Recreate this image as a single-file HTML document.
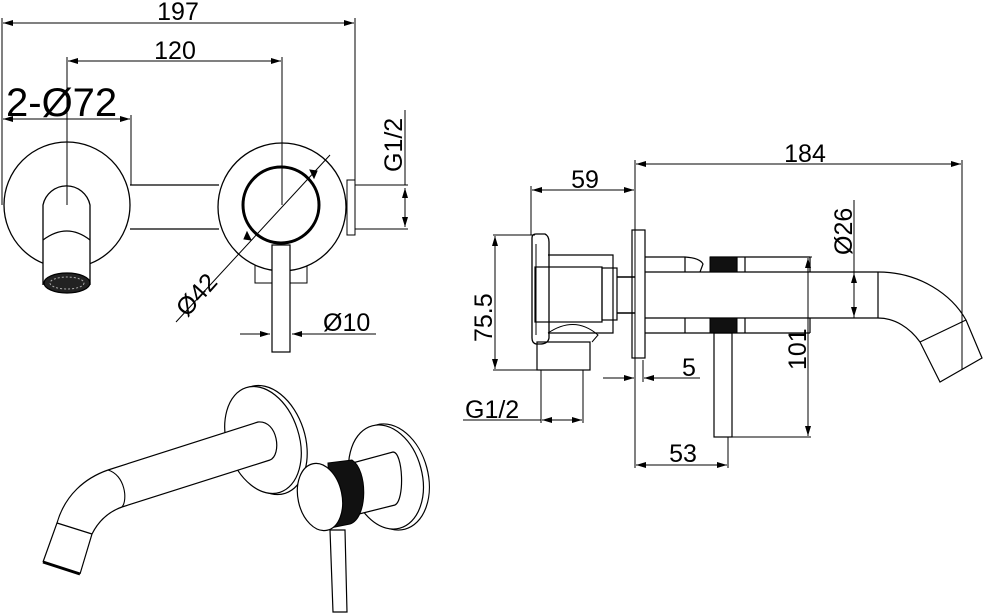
<!DOCTYPE html>
<html><head><meta charset="utf-8"><style>
html,body{margin:0;padding:0;background:#fff}
svg{display:block}
text{font-family:"Liberation Sans",sans-serif;fill:#000}
</style></head><body>
<svg width="989" height="613" viewBox="0 0 989 613" xmlns="http://www.w3.org/2000/svg">
<defs>
<marker id="a" viewBox="0 0 10 6" refX="10" refY="3" markerWidth="10" markerHeight="6" orient="auto-start-reverse" markerUnits="userSpaceOnUse"><path d="M0,0 L10,3 L0,6 z" fill="#000"/></marker>
</defs>
<g fill="none" stroke="#000" stroke-width="1">
<line x1="2" y1="18" x2="2" y2="205"/>
<line x1="355" y1="18" x2="355" y2="185"/>
<line x1="3" y1="23" x2="354" y2="23" marker-start="url(#a)" marker-end="url(#a)"/>
<line x1="67" y1="57" x2="67" y2="205"/>
<line x1="282" y1="57" x2="282" y2="205"/>
<line x1="68" y1="61" x2="281" y2="61" marker-start="url(#a)" marker-end="url(#a)"/>
<line x1="131" y1="115" x2="131" y2="185"/>
<line x1="3" y1="119" x2="130" y2="119" marker-start="url(#a)" marker-end="url(#a)"/>
<circle cx="67" cy="205" r="63" stroke-width="1.3"/>
<path d="M43,285 L43,205 A24,24 0 0 1 90,205 L90,285" fill="#fff" stroke-width="1.3"/>
<line x1="67" y1="57" x2="67" y2="205"/>
<path d="M43,240 Q67,222 90,240" stroke-width="1.2"/>
<ellipse cx="67" cy="283" rx="23" ry="10" fill="#222" stroke-width="1.3"/>
<ellipse cx="67" cy="283" rx="17" ry="6" stroke="#aaa" stroke-dasharray="2,2"/>
<line x1="130" y1="185" x2="219" y2="185" stroke-width="1.2"/>
<line x1="130" y1="229" x2="219" y2="229" stroke-width="1.2"/>
<rect x="255" y="262" width="52" height="21"/>
<circle cx="282" cy="207" r="64" fill="#fff" stroke-width="1.3"/>
<circle cx="281" cy="205" r="38" stroke-width="3"/>
<rect x="347" y="180" width="8" height="55" stroke-width="1"/>
<rect x="272" y="245" width="18" height="107" fill="#fff" stroke-width="1.2"/>
<line x1="282" y1="57" x2="282" y2="205"/>
<line x1="355" y1="185" x2="408" y2="185"/>
<line x1="355" y1="229" x2="408" y2="229"/>
<line x1="405" y1="188" x2="405" y2="227" marker-start="url(#a)" marker-end="url(#a)"/>
<line x1="405" y1="110" x2="405" y2="185"/>
<line x1="176" y1="322" x2="330" y2="155"/>
<path d="M251,240 l-4,-8 l-3,7z M310,170 l4,8 l3,-7z" fill="#000"/>
<line x1="240" y1="334" x2="270" y2="334" marker-end="url(#a)"/>
<line x1="376" y1="334" x2="292" y2="334" marker-end="url(#a)"/>
<line x1="635" y1="160" x2="635" y2="468"/>
<line x1="962" y1="160" x2="962" y2="370"/>
<line x1="636" y1="164" x2="961" y2="164" marker-start="url(#a)" marker-end="url(#a)"/>
<line x1="531" y1="186" x2="531" y2="235"/>
<line x1="532" y1="190" x2="634" y2="190" marker-start="url(#a)" marker-end="url(#a)"/>
<line x1="493" y1="235" x2="535" y2="235"/>
<line x1="493" y1="370" x2="540" y2="370"/>
<line x1="495" y1="236" x2="495" y2="369" marker-start="url(#a)" marker-end="url(#a)"/>
<line x1="541" y1="370" x2="541" y2="423"/>
<line x1="583" y1="370" x2="583" y2="423"/>
<line x1="463" y1="420" x2="541" y2="420"/>
<line x1="542" y1="420" x2="582" y2="420" marker-start="url(#a)" marker-end="url(#a)"/>
<line x1="603" y1="378" x2="634" y2="378" marker-end="url(#a)"/>
<line x1="700" y1="378" x2="644" y2="378" marker-end="url(#a)"/>
<line x1="643" y1="360" x2="643" y2="382"/>
<line x1="636" y1="465" x2="727" y2="465" marker-start="url(#a)" marker-end="url(#a)"/>
<line x1="728" y1="437" x2="728" y2="468"/>
<line x1="728" y1="437" x2="811" y2="437"/>
<line x1="810" y1="257" x2="812" y2="257"/>
<line x1="808" y1="258" x2="808" y2="436" marker-start="url(#a)" marker-end="url(#a)"/>
<line x1="854" y1="200" x2="854" y2="318"/>
<line x1="854" y1="273" x2="854" y2="317" marker-start="url(#a)" marker-end="url(#a)"/>
<line x1="854" y1="318" x2="878" y2="318"/>
<rect x="537" y="342" width="53" height="28" stroke-width="1.2"/>
<path d="M548,255 L613,255 L613,333 L548,333" stroke-width="1.2"/>
<path d="M548,333 Q575,315 598,335 L592,342" stroke-width="1"/>
<rect x="535" y="267" width="67" height="55" stroke-width="1.2"/>
<rect x="602" y="268" width="15" height="52" stroke-width="1.2"/>
<line x1="617" y1="277" x2="635" y2="277" stroke-width="1.5"/>
<line x1="617" y1="313" x2="635" y2="313" stroke-width="1.5"/>
<path d="M532,238 Q532,234 536,234 L545,234 Q549,236 549,242 L549,255 L549,333 L549,338 Q548,344 540,344 L536,344 Q532,343 532,338 Z" stroke-width="1.3"/>
<line x1="536" y1="244" x2="536" y2="335"/>
<rect x="632" y="230" width="13" height="128" stroke-width="1.2"/>
<line x1="635" y1="230" x2="635" y2="358"/>
<line x1="645" y1="272" x2="878" y2="272" stroke-width="1.2"/>
<line x1="645" y1="318" x2="878" y2="318" stroke-width="1.2"/>
<line x1="878" y1="272" x2="878" y2="318" stroke-width="1.2"/>
<path d="M878,272 C920,272 952,295 966,320 L982,358 L940,382 L920,342 C910,328 895,318 878,318" stroke-width="1.2"/>
<line x1="920" y1="342" x2="966" y2="320" stroke-width="1.2"/>
<path d="M645,257 L685,257 L685,272 M685,257 Q700,258 703,264 L700,272 M710,257 L810,257 M810,257 L810,272 M745,257 L745,272 M737,257 L737,272" stroke-width="1.2"/>
<rect x="710" y="257" width="27" height="15" fill="#111"/>
<path d="M645,333 L810,333 M685,318 L685,333 M745,318 L745,333 M810,318 L810,333" stroke-width="1.2"/>
<rect x="710" y="318" width="27" height="15" fill="#111"/>
<rect x="714" y="333" width="18" height="104" stroke-width="1.2"/>
<ellipse cx="268" cy="440" rx="37" ry="56" transform="rotate(-18 268 440)" stroke-width="1.2"/>
<ellipse cx="263" cy="440" rx="36" ry="55" transform="rotate(-18 263 440)" fill="#fff" stroke-width="1.2"/>
<path d="M108,470 L258,422 C278,420 282,455 270,460 L122,507" fill="#fff" stroke-width="1.2"/>
<path d="M108,470 C125,475 128,500 122,507" stroke-width="1.1"/>
<path d="M108,470 C85,478 65,495 57,523 L43,562 M122,507 C108,512 98,522 92,534 L80,574 M57,523 L92,534" stroke-width="1.2"/>
<line x1="43" y1="562" x2="80" y2="574" stroke-width="3"/>
<ellipse cx="391" cy="477" rx="37" ry="54" transform="rotate(-15 391 477)" stroke-width="1.2"/>
<ellipse cx="386" cy="477" rx="36" ry="53" transform="rotate(-15 386 477)" fill="#fff" stroke-width="1.2"/>
<path d="M345,465 L393,452 C403,452 405,500 395,505 L355,515" fill="#fff" stroke-width="1.2"/>
<path d="M328,463 L352,460 C368,470 368,518 350,524 L330,528 Z" fill="#111"/>
<ellipse cx="320" cy="497" rx="22" ry="34" transform="rotate(-12 320 497)" fill="#fff" stroke-width="1.2"/>
<path d="M330,530 L345,530 L347,612 L333,612 Z" fill="#fff" stroke-width="1.2"/>
</g>
<g>
<text x="178" y="20" font-size="25" text-anchor="middle">197</text>
<text x="175" y="59" font-size="25" text-anchor="middle">120</text>
<text x="6" y="116" font-size="40">2-Ø72</text>
<text x="0" y="0" font-size="25" transform="translate(402,172) rotate(-90)">G1/2</text>
<text x="0" y="0" font-size="25" transform="translate(187,318) rotate(-48)">Ø42</text>
<text x="323" y="331" font-size="25">Ø10</text>
<text x="805" y="162" font-size="25" text-anchor="middle">184</text>
<text x="585" y="188" font-size="25" text-anchor="middle">59</text>
<text x="0" y="0" font-size="25" transform="translate(492,342) rotate(-90)">75.5</text>
<text x="465" y="418" font-size="25">G1/2</text>
<text x="682" y="376" font-size="25">5</text>
<text x="683" y="462" font-size="25" text-anchor="middle">53</text>
<text x="0" y="0" font-size="25" transform="translate(806,370) rotate(-90)">101</text>
<text x="0" y="0" font-size="25" transform="translate(852,255) rotate(-90)">Ø26</text>
</g>
</svg>
</body></html>
